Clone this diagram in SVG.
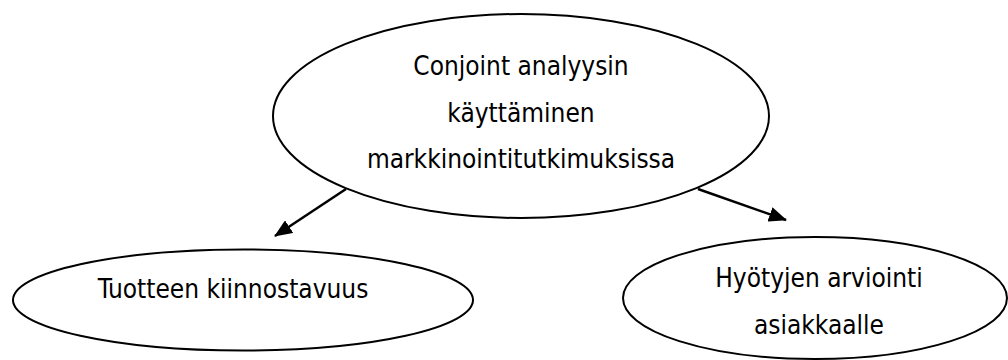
<svg xmlns="http://www.w3.org/2000/svg" width="1008" height="360" viewBox="0 0 1008 360">
  <defs>
    <style>
      .node ellipse { fill: #ffffff; stroke: #000000; stroke-width: 2; }
      .node text { font-family: "DejaVu Sans Condensed", "DejaVu Sans", sans-serif; font-stretch: condensed; font-size: 26px; fill: #000000; text-anchor: middle; }
      .edge { stroke: #000000; stroke-width: 2.5; fill: none; marker-end: url(#arrow); }
    </style>
    <!-- filled triangular arrowhead, sized in user units -->
    <marker id="arrow" viewBox="0 0 18 15" refX="17" refY="7.5" markerWidth="18" markerHeight="15" markerUnits="userSpaceOnUse" orient="auto">
      <path d="M0,0 L18,7.5 L0,15 Z" fill="#000000"/>
    </marker>
  </defs>
  <rect width="1008" height="360" fill="#ffffff"/>

  <g id="node-conjoint" class="node">
    <ellipse cx="521" cy="116" rx="248" ry="102"/>
    <text x="521" y="75">Conjoint analyysin</text>
    <text x="521" y="122">käyttäminen</text>
    <text x="521" y="168">markkinointitutkimuksissa</text>
  </g>

  <g id="node-kiinnostavuus" class="node">
    <ellipse cx="243" cy="300" rx="230" ry="50.5"/>
    <text x="233" y="298">Tuotteen kiinnostavuus</text>
  </g>

  <g id="node-hyodyt" class="node">
    <ellipse cx="815" cy="298" rx="192" ry="61"/>
    <text x="819" y="287">Hyötyjen arviointi</text>
    <text x="819" y="334">asiakkaalle</text>
  </g>

  <g id="connectors">
    <line class="edge" x1="346" y1="189" x2="275" y2="236"/>
    <line class="edge" x1="698" y1="189" x2="786" y2="220"/>
  </g>
</svg>
